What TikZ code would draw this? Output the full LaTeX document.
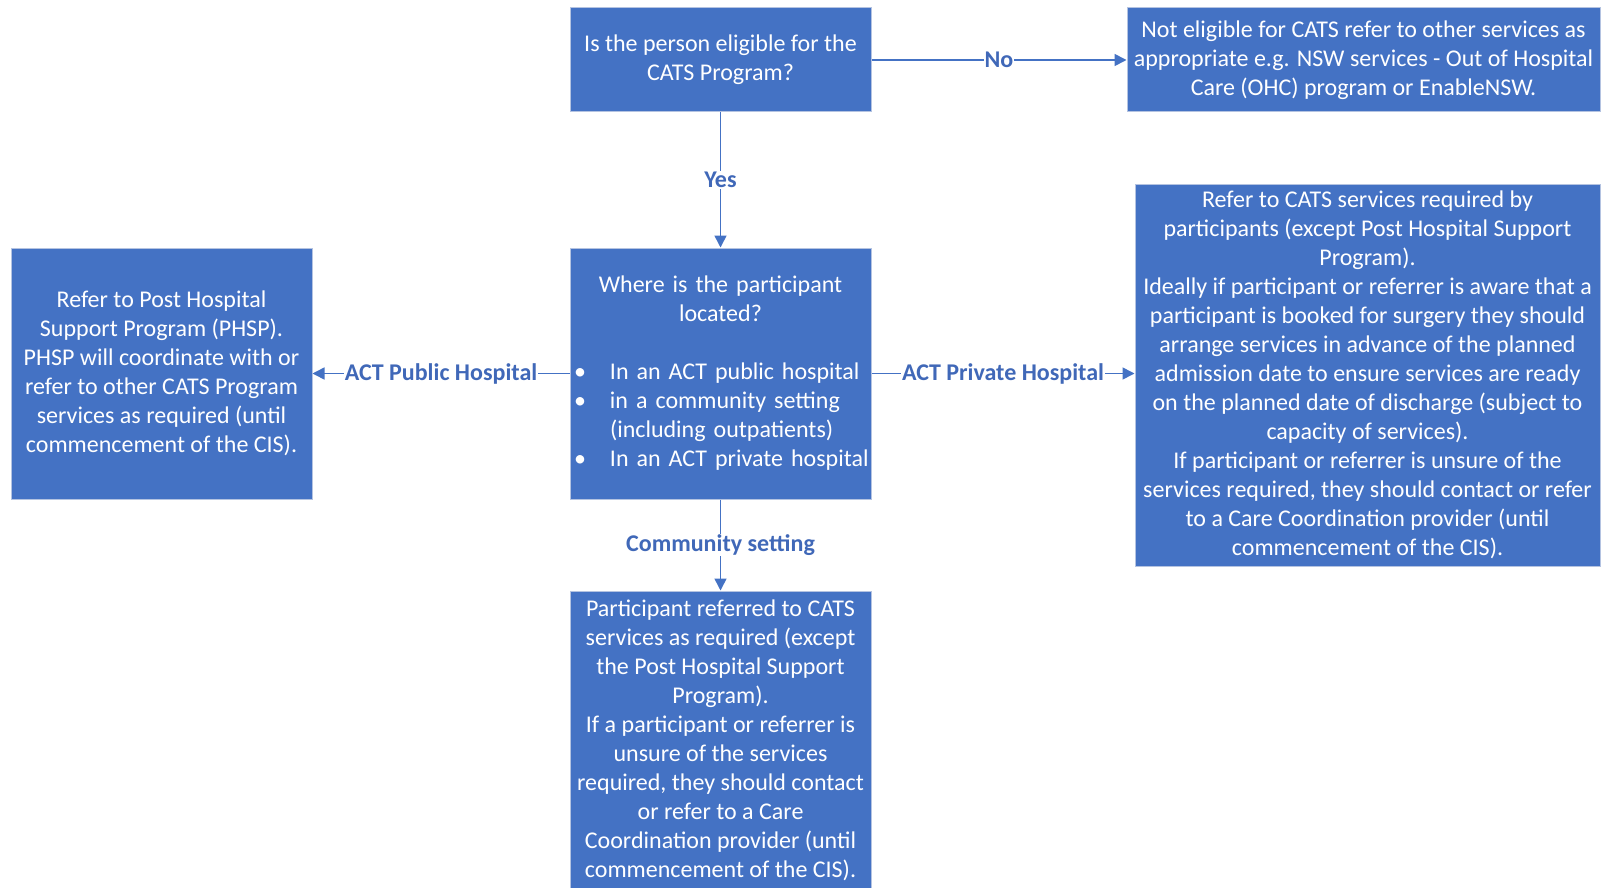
\documentclass[tikz,border=0pt]{standalone}
\usepackage{fontspec}
\setmainfont{Carlito}
\usetikzlibrary{arrows.meta}
\definecolor{boxblue}{HTML}{4472C4}
\definecolor{boxedge}{HTML}{B4C3E1}
\definecolor{lblblue}{HTML}{4068B8}
\begin{document}
\begin{tikzpicture}[x=1pt,y=-1pt,
  box/.style={rectangle, fill=boxblue, draw=boxedge, line width=1pt, text=white,
    inner sep=0pt, align=center, font=\fontsize{24}{29}\selectfont},
  conn/.style={draw=boxblue, line width=1.6pt, -{Triangle[length=12pt,width=12pt]}},
  lbl/.style={fill=white, text=lblblue, inner sep=1pt, font=\fontsize{24}{29}\selectfont\bfseries}]
\clip (0,0) rectangle (1603,888);
\fill[white] (0,0) rectangle (1603,888);

\node[box, minimum width=301pt, minimum height=104pt] (q) at (720.5,60)
  {Is the person eligible for the\\CATS Program?};
\node[box, minimum width=473pt, minimum height=104pt] (ne) at (1363.5,60)
  {Not eligible for CATS refer to other services as\\appropriate e.g. NSW services - Out of Hospital\\Care (OHC) program or EnableNSW.};
\node[box, minimum width=301pt, minimum height=251pt, text width=301pt, align=left] (loc) at (720.5,373.5)
  {\centering Where is the participant\\located?\par
   \vspace{29pt}%
   \raggedright\leftskip=40pt
   \leavevmode\llap{\textbullet\hspace{24pt}}In an ACT public hospital\par
   \leavevmode\llap{\textbullet\hspace{24pt}}in a community setting\\(including outpatients)\par
   \leavevmode\llap{\textbullet\hspace{24pt}}In an ACT private hospital\par};
\node[box, minimum width=301pt, minimum height=251pt] (lb) at (161.5,373.5)
  {Refer to Post Hospital\\Support Program (PHSP).\\PHSP will coordinate with or\\refer to other CATS Program\\services as required (until\\commencement of the CIS).};
\node[box, minimum width=465pt, minimum height=382pt] (rb) at (1367.5,375)
  {Refer to CATS services required by\\participants (except Post Hospital Support\\Program).\\Ideally if participant or referrer is aware that a\\participant is booked for surgery they should\\arrange services in advance of the planned\\admission date to ensure services are ready\\on the planned date of discharge (subject to\\capacity of services).\\If participant or referrer is unsure of the\\services required, they should contact or refer\\to a Care Coordination provider (until\\commencement of the CIS).};
\node[box, minimum width=301pt, minimum height=299pt] (bb) at (720.5,740.5)
  {Participant referred to CATS\\services as required (except\\the Post Hospital Support\\Program).\\If a participant or referrer is\\unsure of the services\\required, they should contact\\or refer to a Care\\Coordination provider (until\\commencement of the CIS).};

\draw[conn] (q.east) -- node[lbl] {No} (ne.west);
\draw[conn] (q.south) -- node[lbl] {Yes} (loc.north);
\draw[conn] (loc.west) -- node[lbl] {ACT Public Hospital} (lb.east);
\draw[conn] (loc.east) -- node[lbl] {ACT Private Hospital} (loc.east -| rb.west);
\draw[conn] (loc.south) -- node[lbl] {Community setting} (bb.north);
\end{tikzpicture}
\end{document}
